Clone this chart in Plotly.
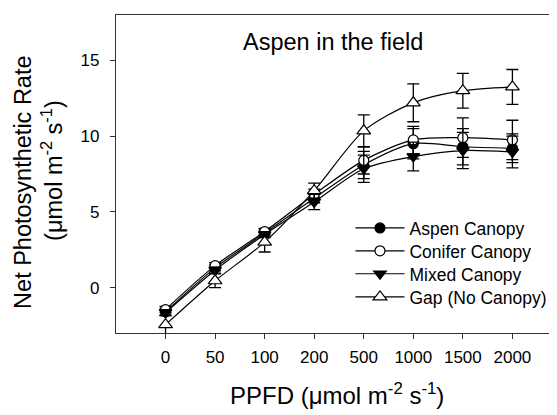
import plotly.graph_objects as go

ppfd = ["0", "50", "100", "200", "500", "1000", "1500", "2000"]

aspen = [-1.6, 1.3, 3.6, 5.9, 8.1, 9.5, 9.3, 9.2]
aspen_err = [0.2, 0.2, 0.2, 0.3, 0.9, 1.0, 1.2, 0.95]
conifer = [-1.45, 1.45, 3.7, 6.15, 8.4, 9.75, 9.9, 9.75]
conifer_err = [0.2, 0.2, 0.2, 0.35, 0.9, 0.9, 1.3, 1.3]
mixed = [-1.65, 1.15, 3.5, 5.65, 7.85, 8.65, 9.05, 8.95]
mixed_err = [0.2, 0.2, 0.2, 0.5, 0.9, 0.95, 1.2, 1.05]
gap = [-2.45, 0.45, 3.0, 6.4, 10.35, 12.2, 13.0, 13.25]
gap_err = [0.6, 0.45, 0.65, 0.5, 1.05, 1.25, 1.15, 1.15]

FONT = "Arial, Liberation Sans, sans-serif"

series = [
    ("Aspen Canopy", aspen, aspen_err, "circle", "black", 10, "legend"),
    ("Conifer Canopy", conifer, conifer_err, "circle", "white", 10, "legend2"),
    ("Mixed Canopy", mixed, mixed_err, "triangle-down", "black", 11, "legend3"),
    ("Gap (No Canopy)", gap, gap_err, "triangle-up", "white", 12, "legend4"),
]

fig = go.Figure()
for name, vals, errs, sym, fill, size, lg in series:
    fig.add_trace(go.Scatter(
        x=ppfd, y=vals, name=name, mode="lines+markers", legend=lg,
        line=dict(color="black", width=1.2, shape="spline", smoothing=0.8),
        marker=dict(symbol=sym, size=size, color=fill,
                    line=dict(color="black", width=1.2)),
        error_y=dict(type="data", array=errs, visible=True,
                     color="black", thickness=1.3, width=6),
    ))

leg_x = 0.5317
leg_rows = [0.330, 0.258, 0.186, 0.113]


def leg(yv):
    return dict(x=leg_x, y=yv, xanchor="left", yanchor="middle",
                bgcolor="rgba(0,0,0,0)", font=dict(size=17.5),
                itemwidth=49, borderwidth=0)


# page body has an 8px default margin: plot area aims at x 116..557, y 15..333
fig.update_layout(
    width=549, height=407,
    margin=dict(l=108, r=0, t=7, b=82),
    paper_bgcolor="white", plot_bgcolor="white",
    font=dict(family=FONT, color="black", size=17),
    showlegend=True,
    legend=leg(leg_rows[0]),
    legend2=leg(leg_rows[1]),
    legend3=leg(leg_rows[2]),
    legend4=leg(leg_rows[3]),
    xaxis=dict(type="category", range=[-1, 7.9], showline=True,
               linecolor="#333", linewidth=1.3, mirror=True,
               ticks="outside", ticklen=5, tickcolor="#333",
               ticklabelstandoff=3,
               showgrid=False, zeroline=False, tickfont=dict(size=17)),
    yaxis=dict(range=[-3, 18], tickvals=[0, 5, 10, 15], showline=True,
               linecolor="#333", linewidth=1.3, ticks="outside", ticklen=5,
               tickcolor="#333", showgrid=False, zeroline=False,
               ticklabelstandoff=7, tickfont=dict(size=17)),
    annotations=[
        dict(text="Aspen in the field", xref="paper", yref="paper",
             x=0.492, y=0.915, xanchor="center", yanchor="middle",
             showarrow=False, font=dict(size=23.5)),
        dict(text="Net Photosynthetic Rate", xref="paper", yref="paper",
             x=-0.211, y=0.475, xanchor="center", yanchor="middle",
             textangle=-90, showarrow=False, font=dict(size=23.5)),
        dict(text="(μmol m<sup>-2</sup> s<sup>-1</sup>)", xref="paper",
             yref="paper", x=-0.145, y=0.51, xanchor="center",
             yanchor="middle", textangle=-90, showarrow=False,
             font=dict(size=23.5)),
        dict(text="PPFD (μmol m<sup>-2</sup> s<sup>-1</sup>)", xref="paper",
             yref="paper", x=0.502, y=-0.192, xanchor="center",
             yanchor="middle", showarrow=False, font=dict(size=24)),
    ],
)

fig.write_html("out.html")
